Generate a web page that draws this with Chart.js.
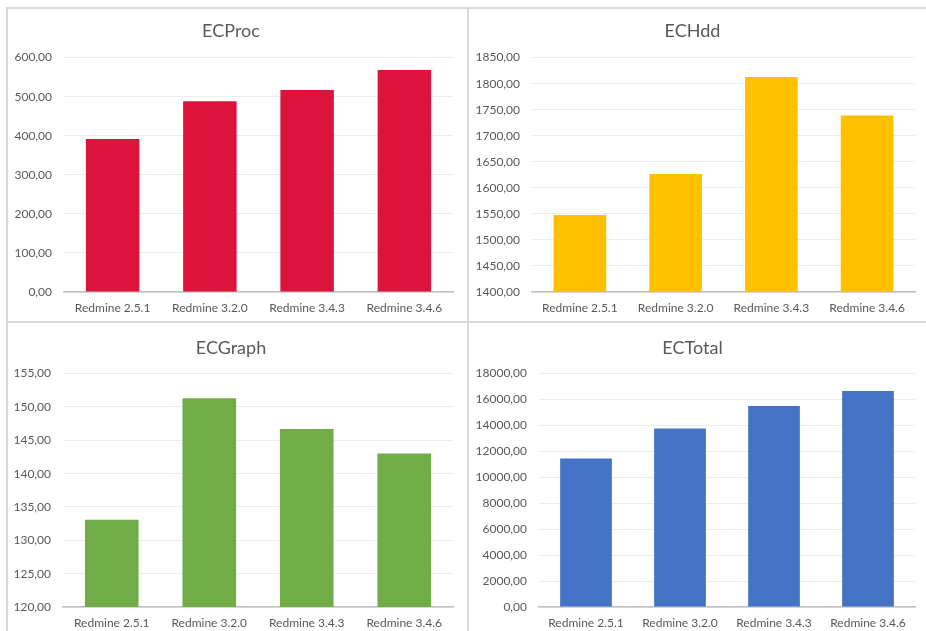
<!DOCTYPE html>
<html>
<head>
<meta charset="utf-8">
<script src="https://cdn.jsdelivr.net/npm/chart.js@4"></script>
<style>
  html, body { margin: 0; padding: 0; background: #fff; overflow: hidden; }
  body { width: 926px; height: 631px; position: relative; }
  .line { position: absolute; background: #d9d9d9; }
  .box { position: absolute; }
</style>
</head>
<body>
<!-- panel frame lines -->
<div class="line" style="left:7px;top:7px;width:919px;height:2px"></div>
<div class="line" style="left:7px;top:321px;width:919px;height:2px"></div>
<div class="line" style="left:6px;top:7px;width:2px;height:624px"></div>
<div class="line" style="left:467px;top:7px;width:2px;height:624px"></div>

<div class="box" style="left:9px;top:10px;width:458px;height:311px"><canvas id="procChart"></canvas></div>
<div class="box" style="left:470px;top:10px;width:456px;height:311px"><canvas id="hddChart"></canvas></div>
<div class="box" style="left:9px;top:325px;width:458px;height:311px"><canvas id="graphChart"></canvas></div>
<div class="box" style="left:470px;top:325px;width:456px;height:311px"><canvas id="totalChart"></canvas></div>

<script>
'use strict';

/* ── DATA ── */
const versions    = ['Redmine 2.5.1', 'Redmine 3.2.0', 'Redmine 3.4.3', 'Redmine 3.4.6'];
const procValues  = [391.5, 488.5, 516.8, 568.3];
const hddValues   = [1548.0, 1626.5, 1812.7, 1739.0];
const graphValues = [133.1, 151.3, 146.7, 143.0];
const totalValues = [11450, 13770, 15500, 16660];

// axis ranges: [min, max, step]
const procAxis  = [0, 600, 100];
const hddAxis   = [1400, 1850, 50];
const graphAxis = [120, 155, 5];
const totalAxis = [0, 18000, 2000];

/* ── STYLE ── */
const TEXT  = '#595959';
const GRID  = '#ececec';
const AXIS  = '#bfbfbf';
const FONT  = "Lato, 'Open Sans', sans-serif";

Chart.defaults.font.family = FONT;
Chart.defaults.color = TEXT;

const fmt = v => Number(v).toFixed(2).replace('.', ',');

function makeBar(id, title, values, color, axis, geo) {
  new Chart(document.getElementById(id), {
    type: 'bar',
    data: {
      labels: versions,
      datasets: [{
        data: values,
        backgroundColor: color,
        borderWidth: 0,
        barPercentage: 0.55,
        categoryPercentage: 1
      }]
    },
    options: {
      responsive: true,
      maintainAspectRatio: false,
      animation: false,
      layout: { padding: { left: 0, right: geo.right, top: 0, bottom: 0 } },
      plugins: {
        legend: { display: false },
        tooltip: { enabled: false },
        title: {
          display: true,
          text: title,
          color: TEXT,
          font: { size: 18, weight: 'normal' },
          padding: { top: geo.titleTop, bottom: geo.titleBottom }
        }
      },
      scales: {
        x: {
          grid: { display: false, drawTicks: false },
          border: { color: AXIS, width: 1.5 },
          ticks: { color: TEXT, font: { size: 12 }, padding: 9, maxRotation: 0 },
          afterFit: s => { s.height = 29; }
        },
        y: {
          min: axis[0],
          max: axis[1],
          grid: { color: GRID, drawTicks: false },
          border: { display: false },
          ticks: { stepSize: axis[2], color: TEXT, font: { size: 12 }, padding: 12, callback: fmt },
          afterFit: s => { s.width = geo.left; }
        }
      }
    }
  });
}

makeBar('procChart',  'ECProc',  procValues,  '#DC143C', procAxis,  { left: 55, right: 14, titleTop: 10, titleBottom: 16 });
makeBar('hddChart',   'ECHdd',   hddValues,   '#FFC000', hddAxis,   { left: 62, right: 11, titleTop: 10, titleBottom: 16 });
makeBar('graphChart', 'ECGraph', graphValues, '#70AD47', graphAxis, { left: 54, right: 14, titleTop: 12, titleBottom: 15 });
makeBar('totalChart', 'ECTotal', totalValues, '#4472C4', totalAxis, { left: 69, right: 11, titleTop: 12, titleBottom: 15 });
</script>
</body>
</html>
